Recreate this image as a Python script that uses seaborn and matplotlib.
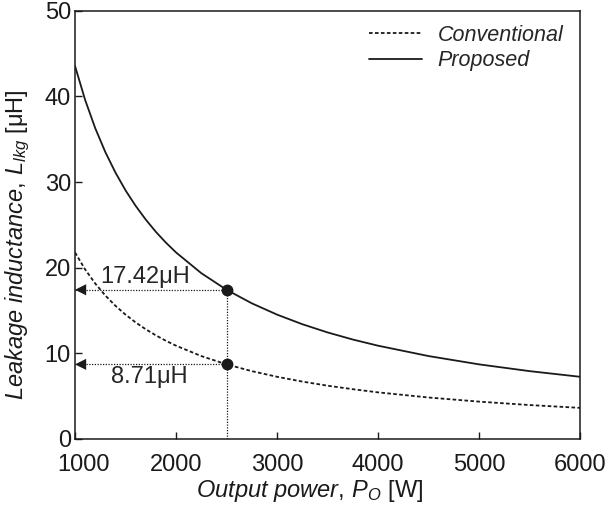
import numpy as np
import pandas as pd
import seaborn as sns
import matplotlib
matplotlib.use('Agg')
import matplotlib.pyplot as plt
import matplotlib.transforms as mtransforms
from matplotlib.lines import Line2D

# output power [W] and leakage inductance [uH]
power = [1000, 1100, 1200, 1300, 1400, 1500, 1600, 1700, 1800, 1900, 2000,
         2250, 2500, 2750, 3000, 3250, 3500, 3750, 4000, 4500, 5000, 5500, 6000]
proposed = [43.55, 39.59, 36.29, 33.50, 31.11, 29.03, 27.22, 25.62, 24.19, 22.92, 21.78,
            19.36, 17.42, 15.84, 14.52, 13.40, 12.44, 11.61, 10.89, 9.68, 8.71, 7.92, 7.26]
conventional = [21.78, 19.80, 18.15, 16.75, 15.55, 14.52, 13.61, 12.81, 12.10, 11.46, 10.89,
                9.68, 8.71, 7.92, 7.26, 6.70, 6.22, 5.81, 5.44, 4.84, 4.36, 3.96, 3.63]

op_power = 2500
op_values = [17.42, 8.71]
op_labels = ['17.42\u03bcH', '8.71\u03bcH']
op_label_pos = [(1690, 18.9), (1740, 7.2)]

sns.set_theme(style='white')
plt.rcParams['font.family'] = ['Liberation Sans', 'DejaVu Sans']
plt.rcParams['mathtext.fontset'] = 'custom'
plt.rcParams['mathtext.rm'] = 'Liberation Sans'
plt.rcParams['mathtext.it'] = 'Liberation Sans:italic'

df = pd.DataFrame({'power': power, 'Proposed': proposed, 'Conventional': conventional})

fig = plt.figure(figsize=(6.1, 5.14), dpi=100)
ax = fig.add_axes([0.123, 0.146, 0.828, 0.833])

sns.lineplot(data=df, x='power', y='Conventional', ax=ax, color='k', lw=1.3,
             dashes=False, linestyle=(0, (2, 1.3)))
sns.lineplot(data=df, x='power', y='Proposed', ax=ax, color='k', lw=1.3)

# operating point guides
ax.plot([op_power, op_power], [0, op_values[0]], color='k', lw=0.9, ls=(0, (1, 1.2)))
for v, lab, pos in zip(op_values, op_labels, op_label_pos):
    ax.plot([1000, op_power], [v, v], color='k', lw=0.9, ls=(0, (1, 1.2)))
    ax.annotate('', xy=(1000, v), xytext=(1170, v),
                arrowprops=dict(arrowstyle='-|>', color='k', lw=0.01,
                                mutation_scale=20, shrinkA=0, shrinkB=0))
    ax.plot(op_power, v, 'o', color='k', ms=7.5)
    ax.text(pos[0], pos[1], lab, ha='center', va='center', fontsize=17)

ax.set_xlim(1000, 6000)
ax.set_ylim(0, 50)
ax.set_xticks([1000, 2000, 3000, 4000, 5000, 6000])
ax.set_yticks([0, 10, 20, 30, 40, 50])
ax.tick_params(direction='in', length=5, width=1, labelsize=17, colors='k',
               bottom=True, left=True)
ax.tick_params(axis='x', pad=11)
ax.tick_params(axis='y', pad=3)
for s in ax.spines.values():
    s.set_color('k')
    s.set_linewidth(1.1)

# first x label sits a little to the right of its tick
first = ax.get_xticklabels()[0]
first.set_transform(first.get_transform() +
                    mtransforms.ScaledTranslation(8 / 100, 0, fig.dpi_scale_trans))

ax.set_xlabel(r'$\mathit{Output\ power,}\!\ \mathit{P}_{\mathit{O}}$ [W]', fontsize=17, color='k')
ax.set_ylabel(r'$\mathit{Leakage\ inductance,}\!\ \mathit{L}_{\mathit{lkg}}$ [$\mathrm{\mu}$H]',
              fontsize=17, color='k')
ax.xaxis.set_label_coords(0.465, -0.092)
ax.yaxis.set_label_coords(-0.085, 0.455)

handles = [Line2D([], [], color='k', lw=1.3, ls=(0, (2, 1.3))),
           Line2D([], [], color='k', lw=1.3)]
leg = ax.legend(handles, ['Conventional', 'Proposed'], loc='upper right', frameon=False,
                prop={'style': 'italic', 'size': 15.5}, handlelength=2.5,
                bbox_to_anchor=(0.975, 0.977), borderaxespad=0.0, borderpad=0.2,
                labelspacing=0.2, handletextpad=0.7)

fig.savefig('out.png', dpi=100)
